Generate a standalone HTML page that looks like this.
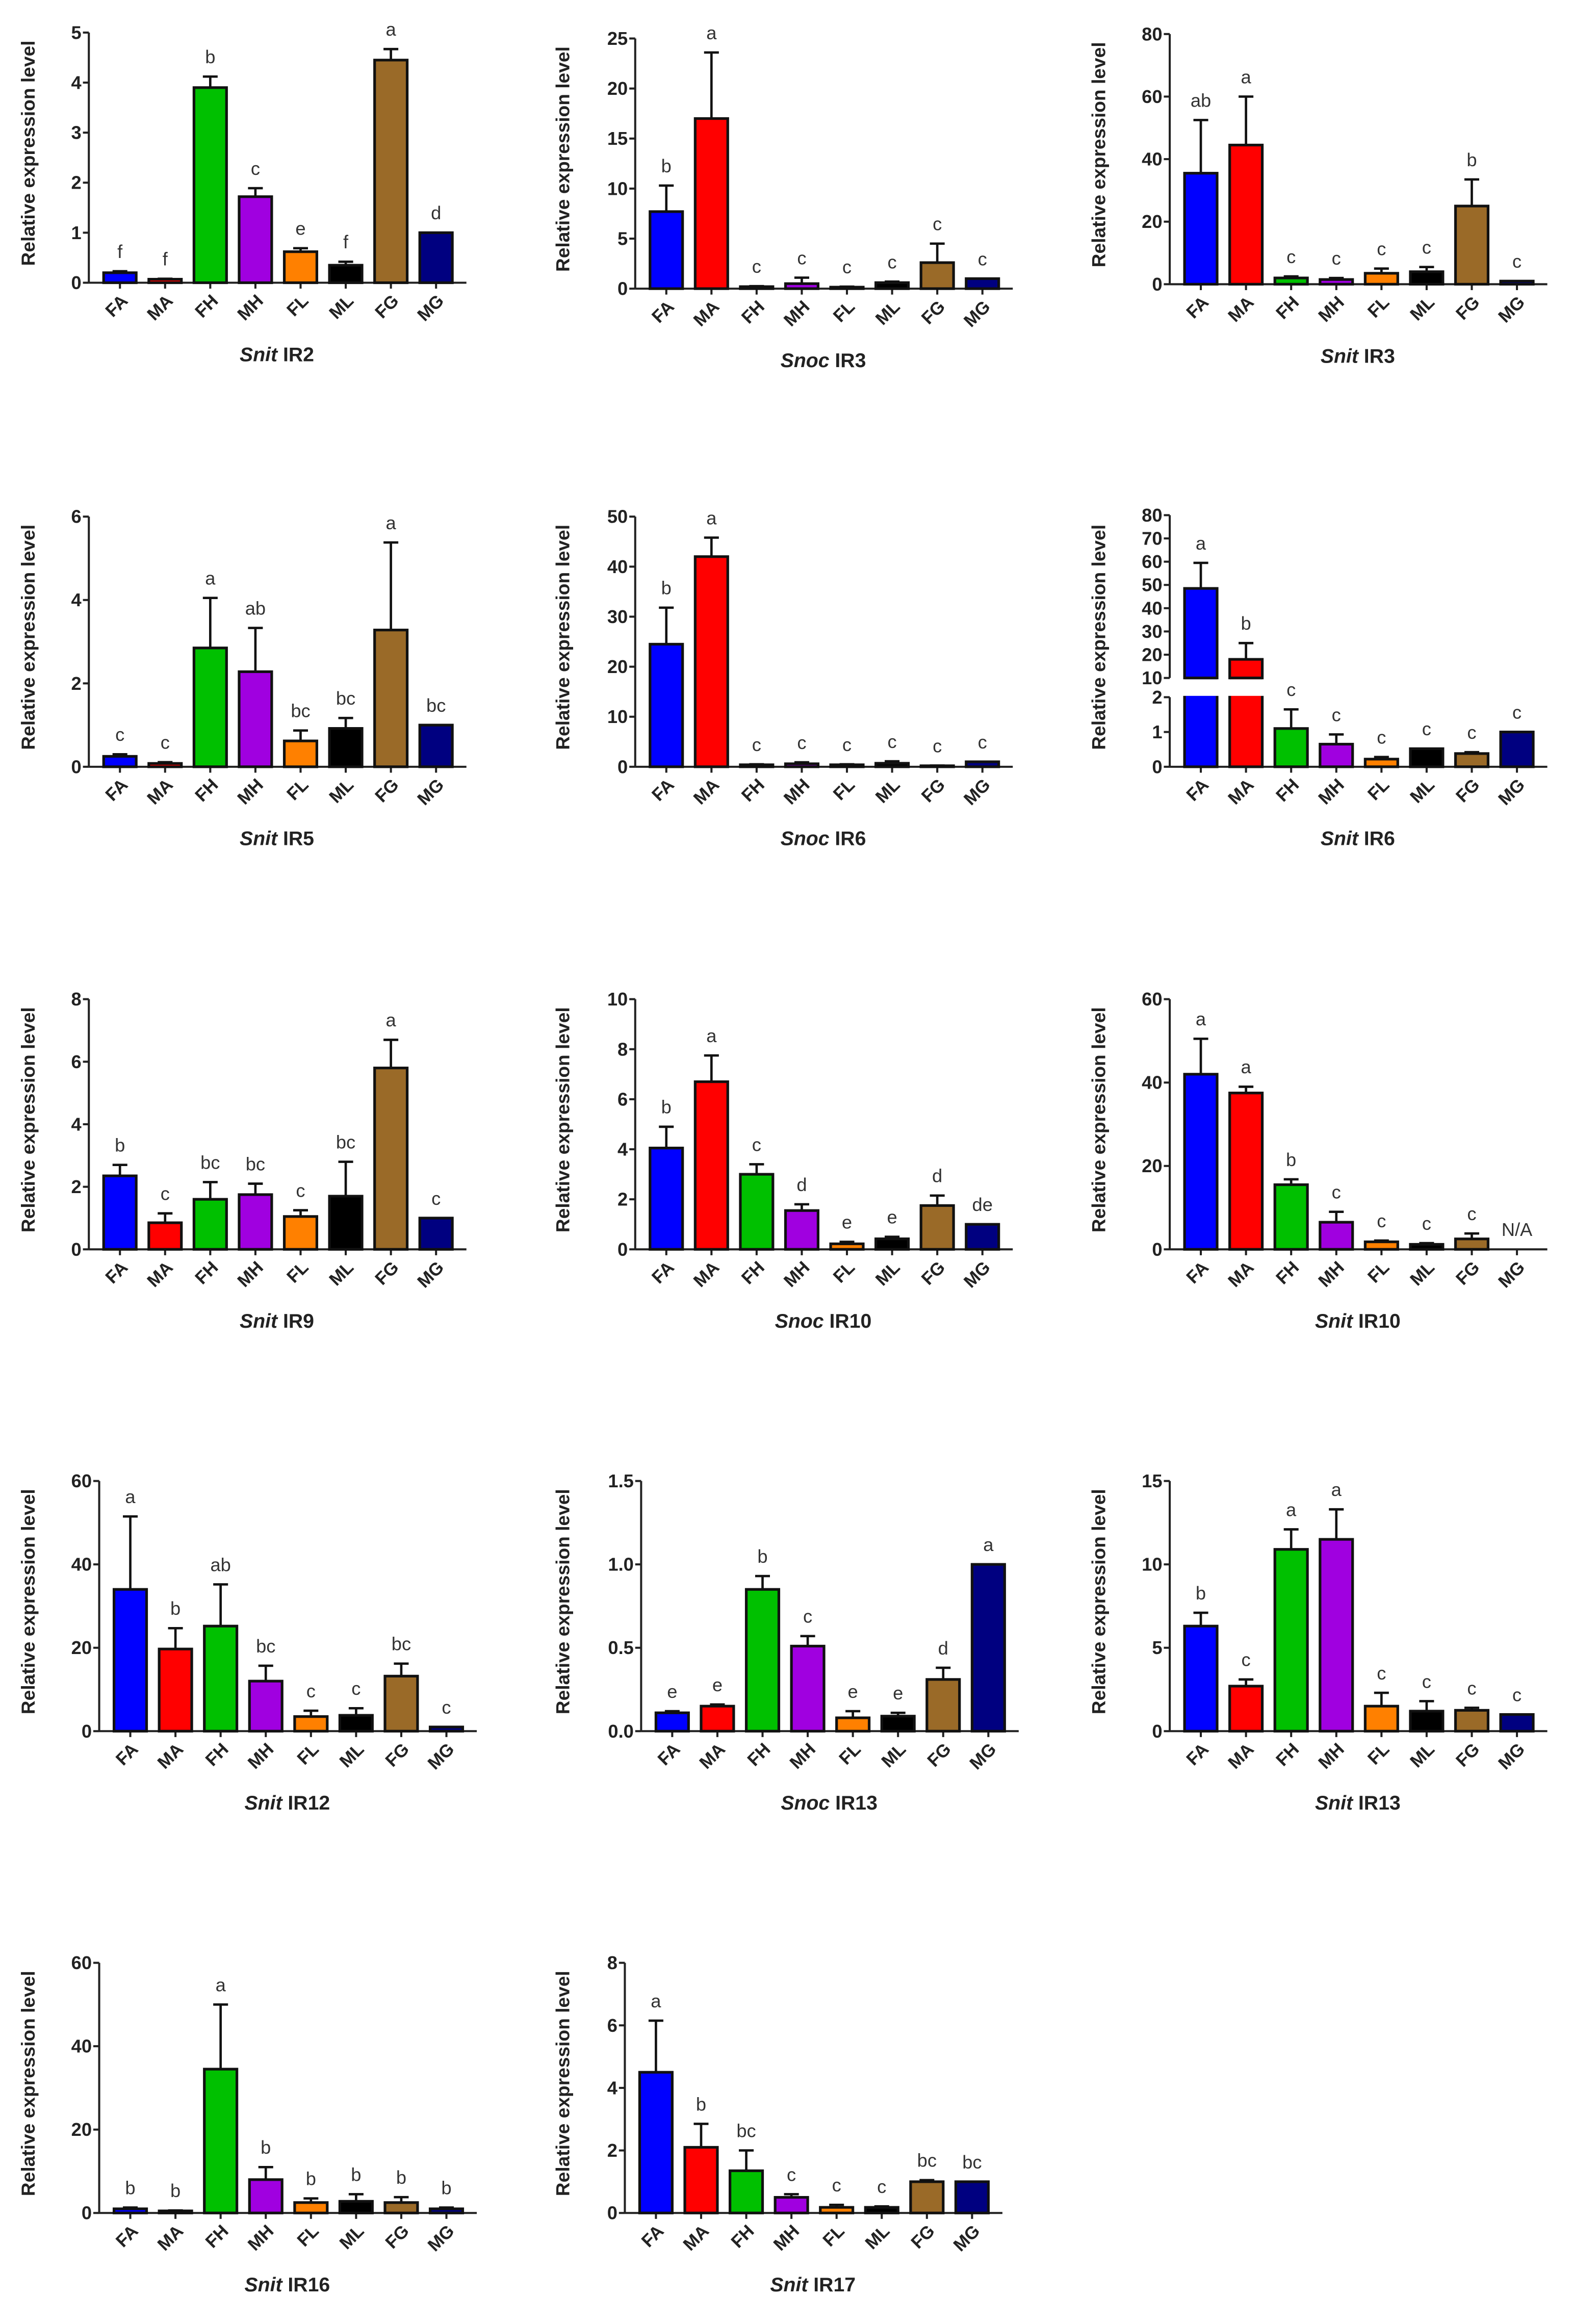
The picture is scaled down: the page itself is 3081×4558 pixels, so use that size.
<!DOCTYPE html>
<html><head><meta charset="utf-8"><title>Relative expression levels</title>
<style>
html,body{margin:0;padding:0;background:#fff;}
svg{display:block;}
text{font-family:"Liberation Sans",Arial,sans-serif;}
</style></head>
<body>
<svg id="fig" xmlns="http://www.w3.org/2000/svg" width="3081" height="4558" viewBox="0 0 1061 1570" preserveAspectRatio="none"></svg>
<script>
const categories = ["FA","MA","FH","MH","FL","ML","FG","MG"];
const barColors = ["#0000ff","#ff0000","#00c000","#a000e0","#ff8000","#000000","#9a6a28","#000080"];

const snitIR2Means = [0.2,0.07,3.9,1.72,0.62,0.35,4.45,1.0];
const snitIR2Errs = [0.03,0.01,0.22,0.17,0.07,0.07,0.22,0];
const snitIR2Letters = ["f","f","b","c","e","f","a","d"];
const snitIR2Ticks = [0,1,2,3,4,5];

const snocIR3Means = [7.7,17,0.2,0.5,0.15,0.6,2.6,1.0];
const snocIR3Errs = [2.6,6.6,0.05,0.6,0.05,0.1,1.9,0];
const snocIR3Letters = ["b","a","c","c","c","c","c","c"];
const snocIR3Ticks = [0,5,10,15,20,25];

const snitIR3Means = [35.5,44.5,2,1.5,3.5,4,25,1];
const snitIR3Errs = [17,15.5,0.5,0.5,1.5,1.5,8.5,0];
const snitIR3Letters = ["ab","a","c","c","c","c","b","c"];
const snitIR3Ticks = [0,20,40,60,80];

const snitIR5Means = [0.25,0.08,2.85,2.28,0.62,0.92,3.28,1.0];
const snitIR5Errs = [0.05,0.03,1.2,1.05,0.25,0.25,2.1,0];
const snitIR5Letters = ["c","c","a","ab","bc","bc","a","bc"];
const snitIR5Ticks = [0,2,4,6];

const snocIR6Means = [24.5,42,0.4,0.6,0.4,0.7,0.2,1];
const snocIR6Errs = [7.3,3.8,0.1,0.3,0.1,0.4,0.05,0];
const snocIR6Letters = ["b","a","c","c","c","c","c","c"];
const snocIR6Ticks = [0,10,20,30,40,50];

const snitIR6Means = [48.5,18,1.1,0.65,0.22,0.52,0.38,1.0];
const snitIR6Errs = [11,7,0.55,0.28,0.06,0,0.04,0];
const snitIR6Letters = ["a","b","c","c","c","c","c","c"];
const snitIR6LowTicks = [0,1,2];
const snitIR6HighTicks = [10,20,30,40,50,60,70,80];

const snitIR9Means = [2.35,0.85,1.6,1.75,1.05,1.7,5.8,1.0];
const snitIR9Errs = [0.35,0.3,0.55,0.35,0.2,1.1,0.9,0];
const snitIR9Letters = ["b","c","bc","bc","c","bc","a","c"];
const snitIR9Ticks = [0,2,4,6,8];

const snocIR10Means = [4.05,6.7,3.0,1.55,0.22,0.42,1.75,1.0];
const snocIR10Errs = [0.85,1.05,0.4,0.25,0.08,0.08,0.4,0];
const snocIR10Letters = ["b","a","c","d","e","e","d","de"];
const snocIR10Ticks = [0,2,4,6,8,10];

const snitIR10Means = [42,37.5,15.5,6.5,1.8,1.2,2.5,0];
const snitIR10Errs = [8.5,1.5,1.3,2.5,0.3,0.3,1.3,0];
const snitIR10Letters = ["a","a","b","c","c","c","c","N/A"];
const snitIR10Ticks = [0,20,40,60];

const snitIR12Means = [34,19.7,25.2,12,3.5,3.8,13.2,1.0];
const snitIR12Errs = [17.5,5,10,3.7,1.4,1.7,3,0];
const snitIR12Letters = ["a","b","ab","bc","c","c","bc","c"];
const snitIR12Ticks = [0,20,40,60];

const snocIR13Means = [0.11,0.15,0.85,0.51,0.08,0.09,0.31,1.0];
const snocIR13Errs = [0.01,0.01,0.08,0.06,0.04,0.02,0.07,0];
const snocIR13Letters = ["e","e","b","c","e","e","d","a"];
const snocIR13Ticks = ["0.0","0.5","1.0","1.5"];

const snitIR13Means = [6.3,2.7,10.9,11.5,1.5,1.2,1.25,1.0];
const snitIR13Errs = [0.8,0.4,1.2,1.8,0.8,0.6,0.15,0];
const snitIR13Letters = ["b","c","a","a","c","c","c","c"];
const snitIR13Ticks = [0,5,10,15];

const snitIR16Means = [1.0,0.5,34.5,8,2.5,2.8,2.5,1.0];
const snitIR16Errs = [0.3,0.1,15.5,3,1,1.7,1.3,0.3];
const snitIR16Letters = ["b","b","a","b","b","b","b","b"];
const snitIR16Ticks = [0,20,40,60];

const snitIR17Means = [4.5,2.1,1.35,0.5,0.18,0.18,1.0,1.0];
const snitIR17Errs = [1.65,0.75,0.65,0.1,0.08,0.03,0.05,0];
const snitIR17Letters = ["a","b","bc","c","c","c","bc","bc"];
const snitIR17Ticks = [0,2,4,6,8];

const NS = "http://www.w3.org/2000/svg";
const svg = document.getElementById("fig");
function mk(tag, attrs, parent){
  const e = document.createElementNS(NS, tag);
  for (const k in attrs) e.setAttribute(k, attrs[k]);
  (parent||svg).appendChild(e);
  return e;
}

const panels = [
  {id:"snit-ir2", sp:"Snit", gene:"IR2", m:snitIR2Means, e:snitIR2Errs, l:snitIR2Letters, t:snitIR2Ticks, ax:60, base:191, lx:19},
  {id:"snoc-ir3", sp:"Snoc", gene:"IR3", m:snocIR3Means, e:snocIR3Errs, l:snocIR3Letters, t:snocIR3Ticks, ax:429, base:195, lx:380},
  {id:"snit-ir3", sp:"Snit", gene:"IR3", m:snitIR3Means, e:snitIR3Errs, l:snitIR3Letters, t:snitIR3Ticks, ax:790, base:192, lx:742},
  {id:"snit-ir5", sp:"Snit", gene:"IR5", m:snitIR5Means, e:snitIR5Errs, l:snitIR5Letters, t:snitIR5Ticks, ax:60, base:518, lx:19},
  {id:"snoc-ir6", sp:"Snoc", gene:"IR6", m:snocIR6Means, e:snocIR6Errs, l:snocIR6Letters, t:snocIR6Ticks, ax:429, base:518, lx:380},
  {id:"snit-ir6", sp:"Snit", gene:"IR6", m:snitIR6Means, e:snitIR6Errs, l:snitIR6Letters, broken:true, ax:790, base:518, lx:742},
  {id:"snit-ir9", sp:"Snit", gene:"IR9", m:snitIR9Means, e:snitIR9Errs, l:snitIR9Letters, t:snitIR9Ticks, ax:60, base:844, lx:19},
  {id:"snoc-ir10", sp:"Snoc", gene:"IR10", m:snocIR10Means, e:snocIR10Errs, l:snocIR10Letters, t:snocIR10Ticks, ax:429, base:844, lx:380},
  {id:"snit-ir10", sp:"Snit", gene:"IR10", m:snitIR10Means, e:snitIR10Errs, l:snitIR10Letters, t:snitIR10Ticks, ax:790, base:844, lx:742},
  {id:"snit-ir12", sp:"Snit", gene:"IR12", m:snitIR12Means, e:snitIR12Errs, l:snitIR12Letters, t:snitIR12Ticks, ax:67, base:1169.5, lx:19},
  {id:"snoc-ir13", sp:"Snoc", gene:"IR13", m:snocIR13Means, e:snocIR13Errs, l:snocIR13Letters, t:snocIR13Ticks, ax:433, base:1169.5, lx:380},
  {id:"snit-ir13", sp:"Snit", gene:"IR13", m:snitIR13Means, e:snitIR13Errs, l:snitIR13Letters, t:snitIR13Ticks, ax:790, base:1169.5, lx:742},
  {id:"snit-ir16", sp:"Snit", gene:"IR16", m:snitIR16Means, e:snitIR16Errs, l:snitIR16Letters, t:snitIR16Ticks, ax:67, base:1495, lx:19},
  {id:"snit-ir17", sp:"Snit", gene:"IR17", m:snitIR17Means, e:snitIR17Errs, l:snitIR17Letters, t:snitIR17Ticks, ax:422, base:1495, lx:380}
];

const H = 169, W = 255;

panels.forEach(p => {
  const g = mk("g", {});
  
  
  let yScale;
  if (p.broken) {
    yScale = v => v <= 2 ? p.base - v * 23.5 : p.base - 60 - (v - 10) * 1.571;
  } else {
    const tv = p.t.map(Number);
    const max = tv[tv.length - 1];
    yScale = v => p.base - v / max * H;
  }
  const xScale = i => p.ax + 21 + i * 30.5;

  const axes = mk("g", {stroke:"#222", "stroke-width":1.4, fill:"none"}, g);
  
  
  mk("line", {x1:p.ax, y1:p.base, x2:p.ax + W, y2:p.base}, axes);
  if (p.broken) {
    mk("line", {x1:p.ax, y1:p.base, x2:p.ax, y2:yScale(2)}, axes);
    mk("line", {x1:p.ax, y1:yScale(10), x2:p.ax, y2:yScale(80)}, axes);
  } else {
    mk("line", {x1:p.ax, y1:p.base, x2:p.ax, y2:p.base - H}, axes);
  }
  const tickList = p.broken ? snitIR6LowTicks.concat(snitIR6HighTicks) : p.t;
  tickList.forEach(t => {
    const y = yScale(Number(t));
    mk("line", {x1:p.ax - 4, y1:y, x2:p.ax, y2:y}, axes);
    const tx = mk("text", {x:p.ax - 5, y:y + 4.3, "text-anchor":"end", "font-size":12.5, "font-weight":"bold", fill:"#222"}, g);
    
    
    tx.textContent = t;
  });

  categories.forEach((c, i) => {
    const cx = xScale(i);
    mk("line", {x1:cx, y1:p.base, x2:cx, y2:p.base + 4}, axes);
    const v = p.m[i], er = p.e[i];
    if (v > 0) {
      const top = yScale(v);
      if (er > 0) {
        const et = yScale(v + er);
        const eb = mk("path", {d:`M${cx},${top} V${et} M${cx-5},${et} H${cx+5}`, stroke:"#111", "stroke-width":1.6, fill:"none"}, g);
        
        
      }
      const r = mk("rect", {x:cx - 11, y:top, width:22, height:Math.max(p.base - top, 0.5), fill:barColors[i], stroke:"#111", "stroke-width":1.8}, g);
      
      
    }
    const lt = yScale(v + er);
    const le = mk("text", {x:cx, y:lt - 9, "text-anchor":"middle", "font-size":12.5, fill:"#333"}, g);
    
    
    le.textContent = p.l[i];
    const ax = cx + 6, ay = p.base + 13;
    const xl = mk("text", {x:ax, y:ay, "text-anchor":"end", "font-size":12, "font-weight":"bold", fill:"#222", transform:`rotate(-45 ${ax} ${ay})`}, g);
    
    
    xl.textContent = c;
  });

  if (p.broken) {
    [0,1].forEach(i => {
      const cx = xScale(i);
      mk("rect", {x:cx - 12.5, y:yScale(10) + 0.9, width:25, height:yScale(2) - yScale(10) - 1.8, fill:"#fff"}, g);
      mk("line", {x1:cx - 11, y1:yScale(10), x2:cx + 11, y2:yScale(10), stroke:"#111", "stroke-width":1.8}, g);
    });
  }

  const cy = p.base - H / 2 - 3;
  const yt = mk("text", {x:p.lx, y:cy, "text-anchor":"middle", "font-size":12.8, "font-weight":"bold", fill:"#222", transform:`rotate(-90 ${p.lx} ${cy}) translate(0 4.5)`}, g);
  
  
  yt.textContent = "Relative expression level";

  const tt = mk("text", {x:p.ax + 127, y:p.base + 53, "text-anchor":"middle", "font-size":13.5, "font-weight":"bold", fill:"#222"}, g);
  
  
  const ts = mk("tspan", {"font-style":"italic"}, tt);
  ts.textContent = p.sp;
  const tg = mk("tspan", {}, tt);
  tg.textContent = " " + p.gene;
});
</script>
</body></html>
